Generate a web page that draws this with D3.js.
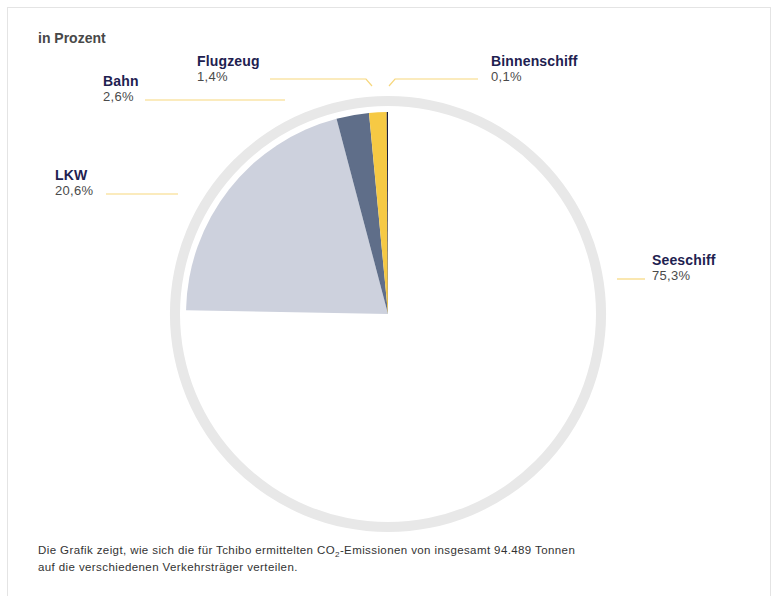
<!DOCTYPE html>
<html>
<head>
<meta charset="utf-8">
<script src="https://cdn.jsdelivr.net/npm/d3@7/dist/d3.min.js"></script>
<style>
  html, body { margin: 0; padding: 0; background: #fff; }
  svg { display: block; font-family: "Liberation Sans", Arial, sans-serif; }
</style>
</head>
<body>
<svg id="chart" width="773" height="596"></svg>
<script>
// Transport modes and their share of CO2 emissions (percent)
const categories = ["Seeschiff", "LKW", "Bahn", "Flugzeug", "Binnenschiff"];
const shares = [75.3, 20.6, 2.6, 1.4, 0.1];
const shareLabels = ["75,3%", "20,6%", "2,6%", "1,4%", "0,1%"];
const colors = ["#ffffff", "#cdd1dd", "#5f6e89", "#f6c944", "#1b1d3c"];

const svg = d3.select("#chart");

// card frame
svg.append("rect")
  .attr("x", 7.5).attr("y", 7.5)
  .attr("width", 763).attr("height", 600)
  .attr("fill", "#fff")
  .attr("stroke", "#e4e4e4");

svg.append("text")
  .attr("x", 38).attr("y", 43)
  .attr("font-size", 14).attr("font-weight", "bold")
  .attr("fill", "#484848")
  .text("in Prozent");

const cx = 388, cy = 314;
const pieR = 202, ringInner = 208, ringOuter = 218;

const g = svg.append("g").attr("transform", `translate(${cx},${cy})`);

// outer grey ring
g.append("path")
  .attr("d", d3.arc()({innerRadius: ringInner, outerRadius: ringOuter, startAngle: 0, endAngle: 2 * Math.PI}))
  .attr("fill", "#e8e8e8");

const pie = d3.pie().sort(null).value(d => d)(shares);
const arc = d3.arc().innerRadius(0).outerRadius(pieR);

g.selectAll("path.slice")
  .data(pie)
  .join("path")
  .attr("class", "slice")
  .attr("d", arc)
  .attr("fill", (d, i) => colors[i]);

// label placement: text anchor and leader-line polyline
const labelLayout = {
  "Seeschiff":    {x: 652, y: 265, line: [[617, 279], [645, 279]]},
  "LKW":          {x: 55,  y: 180, line: [[106, 194], [178, 194]]},
  "Bahn":         {x: 103, y: 86,  line: [[145, 100], [285, 100]]},
  "Flugzeug":     {x: 197, y: 66,  line: [[270, 79], [366, 79], [372, 86]]},
  "Binnenschiff": {x: 491, y: 66,  line: [[389, 86], [395, 79], [478, 79]]}
};

const labels = svg.append("g");
categories.forEach((name, i) => {
  const L = labelLayout[name];
  labels.append("path")
    .attr("d", d3.line()(L.line))
    .attr("fill", "none")
    .attr("stroke", "#f7d77c")
    .attr("stroke-width", 1.2);
  labels.append("text")
    .attr("x", L.x).attr("y", L.y)
    .attr("font-size", 14).attr("font-weight", "bold")
    .attr("letter-spacing", 0.15)
    .attr("fill", "#1e2150")
    .text(name);
  labels.append("text")
    .attr("x", L.x).attr("y", L.y + 15)
    .attr("font-size", 13)
    .attr("letter-spacing", 0.3)
    .attr("fill", "#4a4a4a")
    .text(shareLabels[i]);
});

// footnote
const foot = svg.append("g")
  .attr("font-size", 11.5)
  .attr("letter-spacing", 0.4)
  .attr("fill", "#333");
const t1 = foot.append("text").attr("x", 38).attr("y", 554);
t1.append("tspan").text("Die Grafik zeigt, wie sich die für Tchibo ermittelten CO");
t1.append("tspan").attr("font-size", 8).attr("dy", 3).text("2");
t1.append("tspan").attr("dy", -3).text("-Emissionen von insgesamt 94.489 Tonnen");
foot.append("text").attr("x", 38).attr("y", 571)
  .text("auf die verschiedenen Verkehrsträger verteilen.");
</script>
</body>
</html>
